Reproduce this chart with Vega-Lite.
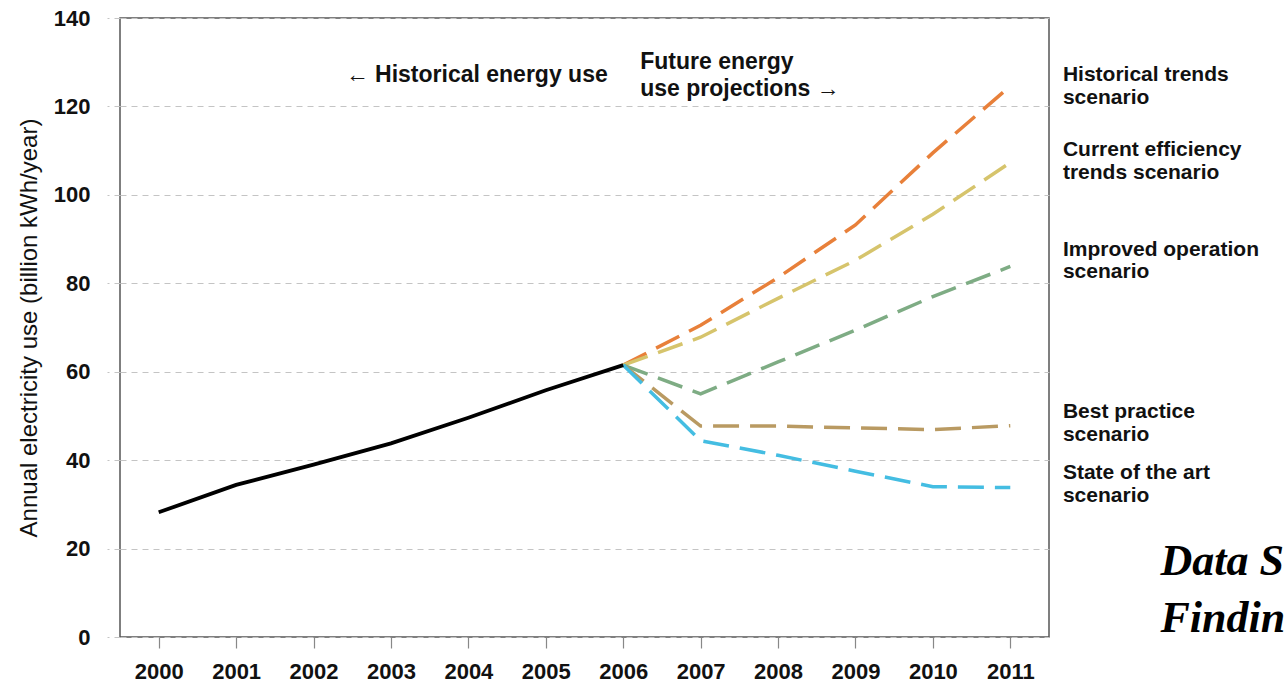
{
  "$schema": "https://vega.github.io/schema/vega-lite/v6.json",
  "width": 929,
  "height": 619,
  "autosize": {"type": "none"},
  "padding": {"left": 120, "top": 18, "right": 238, "bottom": 46},
  "background": "white",
  "config": {
    "font": "Liberation Sans",
    "view": {"stroke": "#555555", "strokeWidth": 1.5},
    "axis": {"domain": false}
  },
  "datasets": {
    "history": [
      {"year": 2000, "value": 28.2},
      {"year": 2001, "value": 34.4},
      {"year": 2002, "value": 39.0},
      {"year": 2003, "value": 43.8},
      {"year": 2004, "value": 49.6},
      {"year": 2005, "value": 55.8},
      {"year": 2006, "value": 61.5}
    ],
    "projections": [
      {"scenario": "Historical trends", "year": 2006, "value": 61.5},
      {"scenario": "Historical trends", "year": 2007, "value": 70.5},
      {"scenario": "Historical trends", "year": 2008, "value": 81.3},
      {"scenario": "Historical trends", "year": 2009, "value": 93.2},
      {"scenario": "Historical trends", "year": 2010, "value": 109.5},
      {"scenario": "Historical trends", "year": 2011, "value": 124.6},
      {"scenario": "Current efficiency trends", "year": 2006, "value": 61.5},
      {"scenario": "Current efficiency trends", "year": 2007, "value": 67.8},
      {"scenario": "Current efficiency trends", "year": 2008, "value": 76.6},
      {"scenario": "Current efficiency trends", "year": 2009, "value": 85.2},
      {"scenario": "Current efficiency trends", "year": 2010, "value": 95.6},
      {"scenario": "Current efficiency trends", "year": 2011, "value": 107.3},
      {"scenario": "Improved operation", "year": 2006, "value": 61.5},
      {"scenario": "Improved operation", "year": 2007, "value": 55.0},
      {"scenario": "Improved operation", "year": 2008, "value": 62.2},
      {"scenario": "Improved operation", "year": 2009, "value": 69.4},
      {"scenario": "Improved operation", "year": 2010, "value": 77.0},
      {"scenario": "Improved operation", "year": 2011, "value": 83.8},
      {"scenario": "Best practice", "year": 2006, "value": 61.5},
      {"scenario": "Best practice", "year": 2007, "value": 47.7},
      {"scenario": "Best practice", "year": 2008, "value": 47.7},
      {"scenario": "Best practice", "year": 2009, "value": 47.3},
      {"scenario": "Best practice", "year": 2010, "value": 46.9},
      {"scenario": "Best practice", "year": 2011, "value": 47.8},
      {"scenario": "State of the art", "year": 2006, "value": 61.5},
      {"scenario": "State of the art", "year": 2007, "value": 44.4},
      {"scenario": "State of the art", "year": 2008, "value": 41.1},
      {"scenario": "State of the art", "year": 2009, "value": 37.5},
      {"scenario": "State of the art", "year": 2010, "value": 34.0},
      {"scenario": "State of the art", "year": 2011, "value": 33.8}
    ],
    "sideLabels": [
      {"label": "Historical trends", "year": 2011.68, "value": 127.0},
      {"label": "scenario", "year": 2011.68, "value": 122.0},
      {"label": "Current efficiency", "year": 2011.68, "value": 110.1},
      {"label": "trends scenario", "year": 2011.68, "value": 105.0},
      {"label": "Improved operation", "year": 2011.68, "value": 87.6},
      {"label": "scenario", "year": 2011.68, "value": 82.5},
      {"label": "Best practice", "year": 2011.68, "value": 51.0},
      {"label": "scenario", "year": 2011.68, "value": 45.7},
      {"label": "State of the art", "year": 2011.68, "value": 37.2},
      {"label": "scenario", "year": 2011.68, "value": 31.8}
    ],
    "leftNote": [
      {"label": "← Historical energy use", "year": 2005.8, "value": 127.0}
    ],
    "rightNote": [
      {"label": "Future energy", "year": 2006.22, "value": 130.0},
      {"label": "use projections →", "year": 2006.22, "value": 124.0}
    ],
    "source": [
      {"label": "Data S", "year": 2012.94, "value": 14.0},
      {"label": "Findin", "year": 2012.94, "value": 1.1}
    ]
  },
  "encoding": {
    "x": {
      "field": "year",
      "type": "quantitative",
      "scale": {"domain": [1999.5, 2011.5], "nice": false, "zero": false},
      "axis": {
        "title": null,
        "values": [2000, 2001, 2002, 2003, 2004, 2005, 2006, 2007, 2008, 2009, 2010, 2011],
        "format": "d",
        "grid": false,
        "tickSize": 11,
        "tickColor": "#888888",
        "tickWidth": 1.2,
        "labelFont": "Liberation Sans",
        "labelFontWeight": "bold",
        "labelFontSize": 22,
        "labelColor": "#111111",
        "labelPadding": 13,
        "labelFlush": false
      }
    },
    "y": {
      "field": "value",
      "type": "quantitative",
      "scale": {"domain": [0, 140], "nice": false},
      "axis": {
        "title": "Annual electricity use (billion kWh/year)",
        "titleFont": "Liberation Sans",
        "titleFontWeight": "normal",
        "titleFontSize": 24,
        "titleColor": "#111111",
        "titlePadding": 12,
        "values": [0, 20, 40, 60, 80, 100, 120, 140],
        "grid": true,
        "gridColor": "#c4c4c4",
        "gridDash": [6, 5],
        "gridWidth": 1,
        "tickSize": 13,
        "tickColor": "#c4c4c4",
        "tickDash": [6, 5],
        "labelFont": "Liberation Sans",
        "labelFontWeight": "bold",
        "labelFontSize": 22,
        "labelColor": "#111111",
        "labelPadding": 17,
        "labelFlush": false
      }
    }
  },
  "layer": [
    {
      "data": {"name": "projections"},
      "mark": {"type": "line", "strokeWidth": 3.5, "strokeDash": [26, 11], "strokeCap": "butt"},
      "encoding": {
        "color": {
          "field": "scenario",
          "type": "nominal",
          "scale": {
            "domain": ["Historical trends", "Current efficiency trends", "Improved operation", "Best practice", "State of the art"],
            "range": ["#e8803a", "#d6c46c", "#7eac84", "#b99a62", "#44bde2"]
          },
          "legend": null
        },
        "detail": {"field": "scenario"},
        "order": {"field": "year"}
      }
    },
    {
      "data": {"name": "history"},
      "mark": {"type": "line", "color": "#000000", "strokeWidth": 3.8},
      "encoding": {"order": {"field": "year"}}
    },
    {
      "data": {"values": [{}]},
      "mark": {"type": "rule", "color": "#000000", "strokeWidth": 2.5},
      "encoding": {
        "x": {"datum": 2006, "type": "quantitative"},
        "y": {"datum": 3.5, "type": "quantitative"},
        "y2": {"datum": 136.5}
      }
    },
    {
      "data": {"name": "leftNote"},
      "mark": {"type": "text", "align": "right", "baseline": "middle", "font": "Liberation Sans", "fontWeight": "bold", "fontSize": 23, "color": "#111111"},
      "encoding": {"text": {"field": "label"}}
    },
    {
      "data": {"name": "rightNote"},
      "mark": {"type": "text", "align": "left", "baseline": "middle", "font": "Liberation Sans", "fontWeight": "bold", "fontSize": 23, "color": "#111111"},
      "encoding": {"text": {"field": "label"}}
    },
    {
      "data": {"name": "sideLabels"},
      "mark": {"type": "text", "align": "left", "baseline": "middle", "font": "Liberation Sans", "fontWeight": "bold", "fontSize": 21, "color": "#111111", "clip": false},
      "encoding": {"text": {"field": "label"}}
    },
    {
      "data": {"name": "source"},
      "mark": {"type": "text", "align": "left", "baseline": "alphabetic", "font": "Liberation Serif", "fontWeight": "bold", "fontStyle": "italic", "fontSize": 44, "color": "#000000", "clip": false},
      "encoding": {"text": {"field": "label"}}
    }
  ]
}
